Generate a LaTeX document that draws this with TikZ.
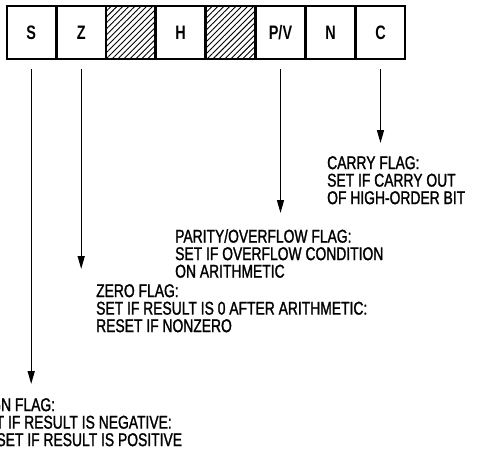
\documentclass[tikz,border=0pt]{standalone}
\usepackage{fontspec}
\setmainfont{Liberation Sans}[FakeStretch=0.74]
\newfontfamily\notefont{Liberation Sans}[FakeStretch=0.75, FakeBold=1.3]
\usetikzlibrary{positioning,patterns.meta,arrows.meta}

\tikzset{
  flag/.style={draw, line width=1.6pt, minimum width=48.4pt, minimum height=53pt,
    inner sep=0pt, font=\fontsize{19.5}{19.5}\selectfont\bfseries},
  unused/.style={flag, pattern={Lines[angle=45, distance=4.2pt, line width=0.9pt]}},
  note/.style={anchor=north west, inner sep=0pt, align=left,
    font=\notefont\fontsize{18.5}{17.5}\selectfont},
  flagarrow/.style={-{Triangle[length=13pt,width=7pt]}, line width=1.4pt},
}

\begin{document}
\begin{tikzpicture}[x=1pt,y=-1pt]
  \clip (0,0) rectangle (483,456);
  \fill[white] (0,0) rectangle (483,456);

  % flag register
  \node[flag] (s) at (31.2,32.5) {S};
  \node[flag, right=0pt of s] (z) {Z};
  \node[unused, right=0pt of z] (u1) {};
  \node[flag, right=0pt of u1] (h) {H};
  \node[unused, right=0pt of h] (u2) {};
  \node[flag, right=0pt of u2] (pv) {P/V};
  \node[flag, right=0pt of pv] (n) {N};
  \node[flag, right=0pt of n] (c) {C};

  % descriptions
  \node[note] (carry) at (327,156) {CARRY FLAG:\\SET IF CARRY OUT\\OF HIGH-ORDER BIT};
  \node[note] (parity) at (175,229) {PARITY/OVERFLOW FLAG:\\SET IF OVERFLOW CONDITION\\ON ARITHMETIC};
  \node[note] (zero) at (96,284) {ZERO FLAG:\\SET IF RESULT IS 0 AFTER ARITHMETIC:\\RESET IF NONZERO};
  \node[note] (sign) at (-23,398) {SIGN FLAG:\\SET IF RESULT IS NEGATIVE:\\RESET IF RESULT IS POSITIVE};

  % arrows
  \draw[flagarrow, shorten >=13pt] ([yshift=-9pt]c.south) -- (c.south |- carry.north);
  \draw[flagarrow, shorten >=16pt] ([yshift=-9pt]pv.south) -- (pv.south |- parity.north);
  \draw[flagarrow, shorten >=15pt] ([yshift=-9pt]z.south) -- (z.south |- zero.north);
  \draw[flagarrow, shorten >=14pt] ([yshift=-9pt]s.south) -- (s.south |- sign.north);
\end{tikzpicture}
\end{document}
